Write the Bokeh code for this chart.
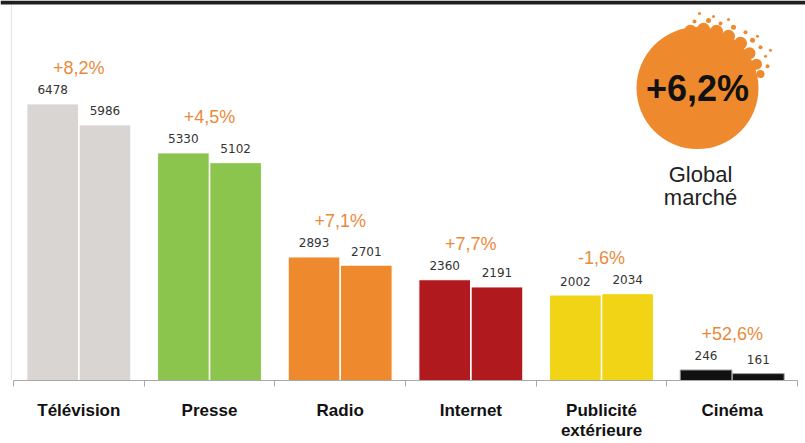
from bokeh.plotting import figure
from bokeh.models import ColumnDataSource, Range1d, FixedTicker, Span, BoxAnnotation
from bokeh.core.properties import value
from bokeh.embed import file_html
from bokeh.resources import INLINE

# ---- data ----
categories = ["Télévision", "Presse", "Radio", "Internet", "Publicité\nextérieure", "Cinéma"]
annee_recente = [6478, 5330, 2893, 2360, 2002, 246]
annee_precedente = [5986, 5102, 2701, 2191, 2034, 161]
evolution = ["+8,2%", "+4,5%", "+7,1%", "+7,7%", "-1,6%", "+52,6%"]
couleurs = ["#D8D5D2", "#8CC54E", "#EE8A2D", "#B0191E", "#F2D417", "#111111"]
evolution_globale = "+6,2%"
libelle_global = ["Global", "marché"]

# ---- geometry helpers (screen px -> data) ----
W, H = 805, 443
AXIS_PX = 382
GROUP_PX = 130.67
X0_PX = 13 + GROUP_PX / 2
Y_END = 8900


def dx(px):
    return (px - X0_PX) / GROUP_PX


def dy(py):
    return (AXIS_PX - py) / (AXIS_PX / Y_END)


idx = list(range(len(categories)))

p = figure(width=W, height=H, output_backend="svg", toolbar_location=None,
           x_range=Range1d(dx(0), dx(W)), y_range=Range1d(0, Y_END),
           min_border_left=0, min_border_right=0, min_border_top=0,
           min_border_bottom=H - AXIS_PX)
p.background_fill_color = "white"
p.border_fill_color = "white"
p.outline_line_color = None
p.xgrid.visible = False
p.ygrid.visible = False
p.yaxis.visible = False

# left light rule and dark top strip
p.add_layout(Span(location=dx(11), dimension="height", line_color="#E4E4E4", line_width=1))
p.add_layout(BoxAnnotation(bottom=dy(4), fill_color="#1F1F1F", fill_alpha=1, line_alpha=0))

outline = ["white"] * (len(categories) - 1) + ["#9A9A9A"]
src1 = ColumnDataSource(dict(x=[i - 0.2 for i in idx], top=annee_recente, color=couleurs,
                             lc=outline, label=[str(v) for v in annee_recente]))
src2 = ColumnDataSource(dict(x=[i + 0.2 for i in idx], top=annee_precedente, color=couleurs,
                             lc=outline, label=[str(v) for v in annee_precedente]))

for s in (src1, src2):
    p.vbar(x="x", top="top", bottom=0, width=0.395, source=s,
           fill_color="color", line_color="lc", line_width=1)
    p.text(x="x", y="top", text="label", source=s, y_offset=-14,
           text_align="center", text_baseline="middle",
           text_font=value("DejaVu Sans"), text_font_size="12px", text_color="#333333")

pct_src = ColumnDataSource(dict(x=idx, y=[max(a, b) for a, b in zip(annee_recente, annee_precedente)],
                                text=evolution))
p.text(x="x", y="y", text="text", source=pct_src, y_offset=-36,
       text_align="center", text_baseline="middle",
       text_font=value("Liberation Sans"), text_font_size="18px", text_color="#E98A3B")

# global badge (ragged paint blob)
badge_x, badge_y = 697, 88
p.scatter(x=[dx(badge_x)], y=[dy(badge_y)], marker="circle", size=122,
          fill_color="#EE8A2D", line_color=None)
splat_px = [(690, 31, 13), (703, 29, 13), (716, 31, 13), (728, 36, 13), (740, 43, 13),
            (749, 53, 12), (756, 64, 11), (760, 74, 8),
            (694, 21, 4), (708, 20, 5), (720, 23, 4), (733, 27, 5), (745, 32, 4),
            (752, 40, 5), (760, 47, 4), (765, 56, 3), (767, 66, 4), (713, 16, 3),
            (728, 19, 3), (757, 36, 3), (699, 13, 3), (770, 50, 3)]
p.scatter(x=[dx(a) for a, b, c in splat_px], y=[dy(b) for a, b, c in splat_px],
          size=[c for a, b, c in splat_px], marker="circle", fill_color="#EE8A2D", line_color=None)
p.text(x=[dx(badge_x)], y=[dy(badge_y)], text=[evolution_globale],
       text_align="center", text_baseline="middle", text_font=value("Liberation Sans"),
       text_font_style="bold", text_font_size="36px", text_color="#111111")
p.text(x=[dx(700), dx(700)], y=[dy(175), dy(198)], text=libelle_global,
       text_align="center", text_baseline="middle", text_font=value("Liberation Sans"),
       text_font_size="22px", text_color="#222222")

# axis
ax = p.xaxis[0]
ax.ticker = FixedTicker(ticks=idx, minor_ticks=[i - 0.5 for i in range(len(categories) + 1)])
ax.major_label_overrides = {i: c for i, c in enumerate(categories)}
ax.bounds = (-0.5, len(categories) - 0.5)
ax.axis_line_color = "#A8A8A8"
ax.major_tick_line_color = None
ax.minor_tick_line_color = "#A8A8A8"
ax.minor_tick_in = 0
ax.minor_tick_out = 6
ax.major_tick_in = 0
ax.major_tick_out = 0
ax.major_label_standoff = 14
ax.major_label_text_font = "Liberation Sans"
ax.major_label_text_font_style = "bold"
ax.major_label_text_font_size = "17px"
ax.major_label_text_line_height = 1.1
ax.major_label_text_color = "#111111"

open("out.html", "w").write(file_html(p, INLINE))
